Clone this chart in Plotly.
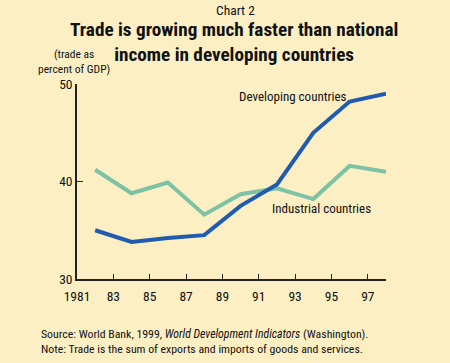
import plotly.graph_objects as go

years = [1982, 1984, 1986, 1988, 1990, 1992, 1994, 1996, 1998]
developing = [35.0, 33.8, 34.2, 34.5, 37.5, 39.7, 45.0, 48.2, 49.0]
industrial = [41.2, 38.8, 39.9, 36.6, 38.7, 39.3, 38.2, 41.6, 41.0]
x_tickvals = [1981, 1983, 1985, 1987, 1989, 1991, 1993, 1995, 1997]
x_ticktext = ["1981", "83", "85", "87", "89", "91", "93", "95", "97"]
y_tickvals = [30, 40, 50]

FONT = "Roboto Condensed, Liberation Sans Narrow, Arial Narrow, sans-serif"
BG = "#FCEFC4"
W, H = 450, 363
L, R, T, B = 77, 64, 84, 84

fig = go.Figure()
fig.add_trace(go.Scatter(x=years, y=industrial, mode="lines",
                         line=dict(color="#7DC2A4", width=4), showlegend=False))
fig.add_trace(go.Scatter(x=years, y=developing, mode="lines",
                         line=dict(color="#1F5BAF", width=4), showlegend=False))

fig.update_layout(
    width=W, height=H,
    paper_bgcolor=BG, plot_bgcolor=BG,
    margin=dict(l=L, r=R, t=T, b=B),
    font=dict(family=FONT, color="#1a1a1a", size=13),
    xaxis=dict(range=[1981, 1998], tickvals=x_tickvals, ticktext=x_ticktext,
               ticks="inside", ticklen=5, tickcolor="#222", showgrid=False,
               zeroline=False, showline=True, linecolor="#222", linewidth=1.5,
               tickfont=dict(size=13.5, family=FONT, color="#111"), ticklabelstandoff=4),
    yaxis=dict(range=[30, 50], tickvals=y_tickvals, ticks="inside", ticklen=6,
               tickcolor="#222", showgrid=False, zeroline=False, showline=True,
               linecolor="#222", linewidth=1.5,
               tickfont=dict(size=13.5, family=FONT, color="#111"), ticklabelstandoff=0),
)

plot_h = H - T - B
plot_w = W - L - R
def py(p):
    return (H - B - p) / plot_h
def px_(p):
    return (p - L) / plot_w

fig.add_annotation(text="Chart 2", xref="paper", yref="paper", x=px_(235), y=py(9.5),
                   xanchor="center", yanchor="middle", showarrow=False, borderpad=0,
                   font=dict(size=13.5, family=FONT, color="#111"))
fig.add_annotation(text="<b>Trade is growing much faster than national</b><br>"
                        "<b>income in developing countries</b>", xref="paper", yref="paper",
                   x=px_(234), y=py(41.5), xanchor="center", yanchor="middle", showarrow=False,
                   align="center", borderpad=0,
                   font=dict(size=19.2, family=FONT, color="#111"))
fig.add_annotation(text="(trade as<br>percent of GDP)", xref="paper", yref="paper",
                   x=px_(74), y=py(62), xanchor="center", yanchor="middle", showarrow=False,
                   align="center", borderpad=0, font=dict(size=11.5, family=FONT, color="#111"))
fig.add_annotation(text="Developing countries", x=1989.8, y=py(96) * 20 + 30,
                   xanchor="left", yanchor="middle", showarrow=False,
                   font=dict(size=13, family=FONT, color="#111"))
fig.add_annotation(text="Industrial countries", x=1991.6, y=py(208) * 20 + 30,
                   xanchor="left", yanchor="middle", showarrow=False,
                   font=dict(size=13, family=FONT, color="#111"))
fig.add_annotation(text="Source: World Bank, 1999, <i>World Development Indicators</i> (Washington).<br>"
                        "Note: Trade is the sum of exports and imports of goods and services.",
                   xref="paper", yref="paper", x=px_(39), y=py(341.5), xanchor="left",
                   yanchor="middle", showarrow=False, align="left",
                   font=dict(size=11.8, family=FONT, color="#111"))

fig.write_html("out.html", config={"displayModeBar": False},
               post_script="document.body.style.margin='0';document.body.style.background='" + BG + "';")
